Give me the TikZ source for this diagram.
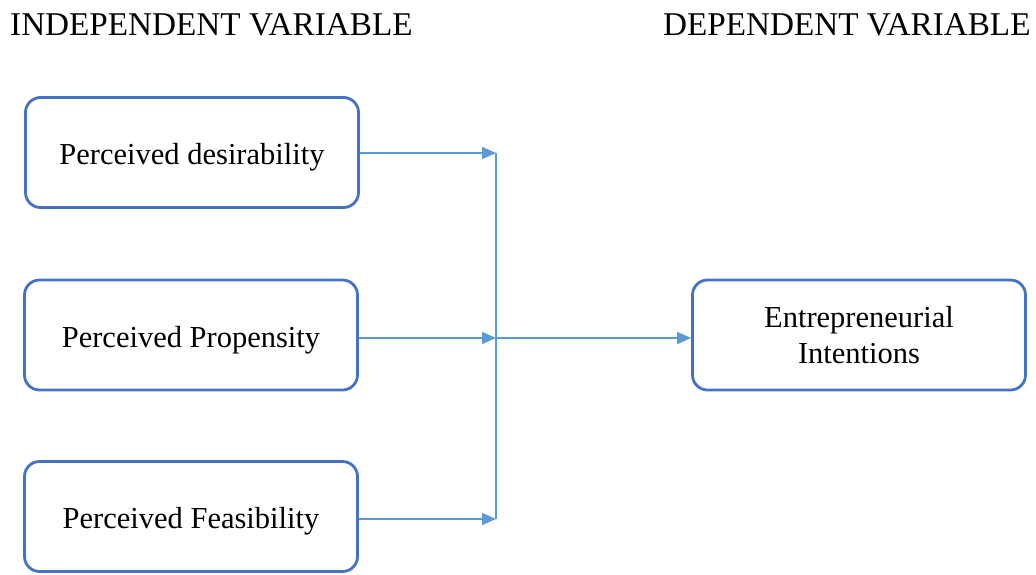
\documentclass[tikz,border=0pt]{standalone}
\usepackage{fontspec}
\setmainfont{Liberation Serif}
\usetikzlibrary{arrows.meta}
\definecolor{boxblue}{HTML}{4472C4}
\definecolor{lineblue}{HTML}{5B9BD5}
\begin{document}
\begin{tikzpicture}[x=1pt,y=-1pt,
  varbox/.style={draw=boxblue, line width=2.8pt, rounded corners=15pt,
    minimum width=333pt, minimum height=110pt, inner sep=0pt,
    font=\fontsize{30.5}{36}\selectfont, align=center, text=black},
  oneline/.style={text height=29pt, text depth=5pt},
  header/.style={anchor=base west, inner sep=0pt,
    font=\fontsize{33.2}{38}\selectfont},
  link/.style={draw=lineblue, line width=1.8pt},
  tip/.style={link, -{Triangle[length=14pt,width=12pt]}}]
  \useasboundingbox (0,0) rectangle (1036,574);

  % column headings
  \node[header] (hind) at (10,35) {INDEPENDENT VARIABLE};
  \node[header] (hdep) at (663,35) {DEPENDENT VARIABLE};

  % variable boxes
  \node[varbox, oneline] (desir) at (192,152.5) {Perceived desirability};
  \node[varbox, oneline] (prop)  at (191,335)   {Perceived Propensity};
  \node[varbox, oneline] (feas)  at (191,516.5) {Perceived Feasibility};
  \node[varbox] (ei)    at (859,335)   {Entrepreneurial\\Intentions};

  % collector line
  \coordinate (top) at (496,153);
  \coordinate (mid) at (496,338);
  \coordinate (bot) at (496,519);
  \draw[link] (top) -- (bot);

  % arrows into the collector
  \draw[tip] (desir.east |- top) -- (top);
  \draw[tip] (prop.east |- mid) -- (mid);
  \draw[tip] (feas.east |- bot) -- (bot);

  % arrow to the dependent variable
  \draw[tip] (mid) -- (ei.west |- mid);
\end{tikzpicture}
\end{document}
